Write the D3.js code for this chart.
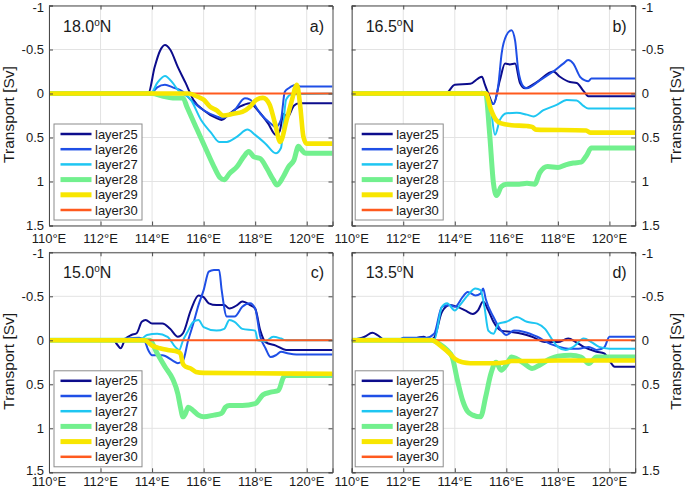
<!DOCTYPE html>
<html><head><meta charset="utf-8">
<script src="https://cdn.jsdelivr.net/npm/d3@7"></script>
<style>
html,body{margin:0;padding:0;background:#fff;}
svg{display:block;font-family:"Liberation Sans",Arial,sans-serif;}
</style></head>
<body>
<svg id="chart" width="685" height="491"></svg>
<script>
// ---------- data ----------
const layerNames = ["layer25","layer26","layer27","layer28","layer29","layer30"];
const xTickValues = [110,112,114,116,118,120];
const xTickLabels = ["110°E","112°E","114°E","116°E","118°E","120°E"];
const yTickValues = [-1,-0.5,0,0.5,1,1.5];
const yTickLabels = ["-1","-0.5","0","0.5","1","1.5"];
const panelLats = ["18.0","16.5","15.0","13.5"];
const panelTags = ["a)","b)","c)","d)"];

// panel a (18.0N)
const a25 = [[110,0],[113.85,0],[114.1,-0.3],[114.3,-0.48],[114.5,-0.55],[114.7,-0.5],[115,-0.3],[115.3,-0.12],[115.6,0.07],[116,0.19],[116.5,0.28],[116.7,0.3],[117,0.23],[117.4,0.15],[117.8,0.11],[118.1,0.19],[118.5,0.34],[118.8,0.47],[118.95,0.43],[119.1,0.23],[119.25,0.27],[119.5,0.14],[119.7,0.11],[121,0.11]];
const a26 = [[110,0],[113.95,0],[114.2,-0.07],[114.5,-0.1],[114.8,-0.07],[115.2,-0.02],[115.5,0.07],[116,0.19],[116.5,0.26],[116.7,0.28],[117.2,0.19],[117.6,0.055],[117.8,0.07],[118.2,0.23],[118.6,0.34],[118.8,0.38],[119.0,0.3],[119.15,-0.02],[119.3,-0.06],[119.6,-0.1],[119.75,-0.08],[121,-0.08]];
const a27 = [[110,0],[113.95,0],[114.2,-0.12],[114.5,-0.2],[114.8,-0.12],[115,-0.04],[115.5,0.07],[115.9,0.3],[116.3,0.45],[116.6,0.55],[116.9,0.55],[117.3,0.49],[117.7,0.41],[118,0.47],[118.4,0.57],[118.8,0.68],[119,0.62],[119.2,0.07],[119.4,0.01],[121,0]];
const a28 = [[110,0],[114,0],[114.4,0.03],[114.8,0.05],[115.2,0.05],[115.35,0.15],[115.7,0.38],[116.1,0.64],[116.4,0.83],[116.65,0.96],[116.8,0.98],[117,0.91],[117.3,0.83],[117.55,0.72],[117.75,0.66],[117.95,0.72],[118.2,0.74],[118.45,0.85],[118.7,0.98],[118.85,1.04],[119.1,0.94],[119.3,0.83],[119.5,0.76],[119.68,0.6],[119.8,0.64],[119.95,0.68],[121,0.68]];
const a29 = [[110,0],[115.4,0],[115.8,0.04],[116.0,0.07],[116.25,0.15],[116.5,0.19],[116.77,0.25],[117.15,0.23],[117.5,0.21],[117.8,0.15],[118.05,0.07],[118.3,0.05],[118.55,0.12],[118.77,0.34],[118.97,0.55],[119.22,0.3],[119.42,0.08],[119.62,-0.1],[119.75,0.15],[119.87,0.49],[120,0.57],[121,0.57]];
const a30 = [[110,0],[121,0]];

// panel b (16.5N)
const b25 = [[110,0],[113.65,0],[114,-0.1],[114.6,-0.11],[114.9,-0.17],[115.05,-0.19],[115.17,-0.1],[115.3,0],[115.5,0.12],[115.75,-0.15],[115.95,-0.34],[116.14,-0.33],[116.34,-0.34],[116.53,-0.12],[116.73,-0.06],[117.18,-0.13],[117.82,-0.25],[118.08,-0.19],[118.47,-0.13],[118.73,-0.12],[118.99,-0.03],[119.18,0.03],[121,0.03]];
const b26 = [[110,0],[114.9,0],[115.05,-0.02],[115.2,0],[115.5,0.12],[115.69,-0.1],[115.82,-0.46],[116,-0.66],[116.2,-0.72],[116.34,-0.6],[116.46,-0.27],[116.66,-0.08],[116.79,-0.06],[117.3,-0.15],[117.82,-0.25],[118.21,-0.34],[118.4,-0.38],[118.6,-0.34],[118.86,-0.19],[119.05,-0.15],[119.18,-0.14],[119.3,-0.17],[121,-0.17]];
const b27 = [[110,0],[115.2,0],[115.37,0.11],[115.56,0.47],[115.75,0.3],[116.01,0.225],[116.4,0.22],[116.79,0.24],[117.05,0.26],[117.44,0.19],[117.95,0.13],[118.34,0.075],[118.73,0.08],[118.99,0.14],[119.18,0.17],[121,0.17]];
const b28 = [[110,0],[115.2,0],[115.35,0.45],[115.5,1.02],[115.62,1.16],[115.8,1.06],[116,1.03],[116.5,1.03],[116.8,1.02],[117.1,1.03],[117.3,0.9],[117.6,0.83],[118,0.84],[118.3,0.81],[118.6,0.79],[118.9,0.78],[119.1,0.71],[119.3,0.62],[121,0.62]];
const b29 = [[110,0],[115.2,0],[115.4,0.18],[115.6,0.3],[115.8,0.34],[116.2,0.36],[116.8,0.37],[117.0,0.38],[117.15,0.41],[119.1,0.42],[119.25,0.445],[121,0.445]];
const b30 = [[110,0],[121,0]];

// panel c (15.0N)
const c25 = [[110,0],[112.5,0],[112.65,0.05],[112.78,0.09],[112.95,-0.01],[113.2,-0.06],[113.4,-0.08],[113.6,-0.21],[113.75,-0.23],[114,-0.19],[114.4,-0.19],[114.7,-0.13],[115,-0.04],[115.2,-0.08],[115.5,-0.34],[115.8,-0.51],[116,-0.49],[116.2,-0.42],[116.5,-0.4],[116.8,-0.4],[117,-0.36],[117.3,-0.4],[117.5,-0.44],[117.8,-0.4],[118,-0.36],[118.2,-0.11],[118.4,0.02],[118.8,0.06],[119.2,0.11],[121,0.11]];
const c26 = [[110,0],[112.6,0],[113,-0.02],[113.5,-0.03],[113.7,0],[113.85,0.11],[114,0.17],[114.4,0.17],[114.8,0.23],[115,0.26],[115.2,0.23],[115.4,0],[115.6,-0.19],[115.8,-0.4],[116,-0.57],[116.2,-0.78],[116.4,-0.8],[116.6,-0.8],[116.7,-0.57],[116.9,-0.27],[117.2,-0.27],[117.5,-0.38],[117.8,-0.42],[118,-0.36],[118.2,-0.04],[118.4,0.09],[118.6,0.19],[118.8,0.17],[119,0.13],[119.3,0.15],[119.6,0.16],[121,0.16]];
const c27 = [[110,0],[113.5,0],[113.8,-0.06],[114.2,-0.075],[114.6,-0.04],[114.9,0.075],[115.05,0.11],[115.2,0],[115.4,-0.11],[115.6,-0.21],[115.8,-0.23],[116,-0.15],[116.5,-0.11],[116.8,-0.13],[117,-0.23],[117.2,-0.21],[117.5,-0.13],[118,-0.11],[118.1,0],[118.4,0.01],[118.7,-0.04],[119,-0.02],[119.2,0],[121,0]];
const c28 = [[110,0],[113.9,0],[114.2,0.15],[114.5,0.3],[114.8,0.44],[115,0.61],[115.1,0.76],[115.2,0.87],[115.3,0.83],[115.4,0.76],[115.6,0.8],[115.8,0.85],[116,0.87],[116.4,0.85],[116.7,0.83],[116.85,0.76],[117,0.74],[117.5,0.74],[118,0.72],[118.3,0.62],[118.6,0.59],[118.9,0.57],[119.1,0.42],[119.2,0.4],[121,0.4]];
const c29 = [[110,0],[113.7,0],[114,0.06],[114.3,0.09],[114.6,0.11],[115,0.13],[115.1,0.15],[115.2,0.27],[115.3,0.3],[115.5,0.32],[115.7,0.36],[116,0.37],[121,0.38]];
const c30 = [[110,0],[121,0]];

// panel d (13.5N)
const d25 = [[110,0],[110.5,-0.04],[110.8,-0.085],[111,-0.06],[111.3,0],[112,0.01],[112.8,-0.04],[113,0],[113.2,-0.03],[113.5,-0.32],[113.8,-0.4],[114.1,-0.38],[114.4,-0.34],[114.7,-0.3],[114.9,-0.34],[115.1,-0.44],[115.3,-0.34],[115.5,-0.21],[115.8,-0.11],[116.2,-0.095],[116.6,-0.075],[117,-0.04],[117.5,0.02],[118,0.02],[118.4,-0.02],[118.7,0.02],[119,0.075],[119.5,0.13],[119.8,0.15],[120,0.23],[120.2,0.3],[121,0.3]];
const d26 = [[110,0],[111.8,0],[112,-0.03],[112.9,-0.03],[113.2,-0.075],[113.5,-0.38],[113.8,-0.4],[114,-0.38],[114.3,-0.49],[114.5,-0.55],[114.8,-0.51],[115,-0.53],[115.1,-0.59],[115.2,-0.47],[115.5,-0.265],[115.8,-0.11],[116,-0.06],[116.3,-0.11],[116.7,-0.095],[117.2,-0.04],[117.7,0.04],[118,0.07],[118.4,0.095],[118.8,0.095],[119.2,0.075],[119.5,0.11],[119.8,0.08],[120,-0.04],[121,-0.04]];
const d27 = [[110,0],[113.2,0],[113.5,-0.38],[113.7,-0.42],[114,-0.34],[114.2,-0.4],[114.5,-0.51],[114.8,-0.59],[115,-0.57],[115.15,-0.38],[115.3,-0.11],[115.5,-0.075],[115.7,-0.19],[116,-0.21],[116.4,-0.265],[116.8,-0.21],[117.2,-0.19],[117.5,-0.13],[117.8,0],[118,0.075],[118.3,0.11],[118.6,0.075],[119,-0.02],[119.3,0.02],[119.6,0.075],[120,0.095],[121,0.095]];
const d28 = [[110,0],[113.1,0],[113.4,0.04],[113.7,0.11],[113.9,0.19],[114.1,0.45],[114.3,0.68],[114.5,0.81],[114.7,0.85],[115,0.87],[115.2,0.64],[115.4,0.38],[115.6,0.25],[115.8,0.34],[116,0.28],[116.2,0.19],[116.4,0.21],[116.7,0.265],[117,0.32],[117.3,0.28],[117.7,0.21],[118,0.18],[118.5,0.17],[118.9,0.19],[119.2,0.265],[119.5,0.19],[121,0.19]];
const d29 = [[110,0],[113.1,0],[113.5,0.075],[113.8,0.15],[114,0.21],[114.3,0.25],[114.6,0.26],[115.5,0.26],[116,0.25],[116.2,0.235],[117,0.235],[118,0.23],[121,0.23]];
const d30 = [[110,0],[121,0]];

// ---------- styles / layout ----------
const layerColors = ["#0c0c8c","#1f4fe6","#1ec6f2","#72f08e","#f8e600","#ff5a1e"];
const layerWidths = [2,2,2,5,4.6,2];
const drawOrder = [0,1,2,3,5,4];

const PW = 283.5, PH = 220;
const layout = [
  {left:49,    top:5.5,   side:"left",  xlabBase:243, bottomNudge:0},
  {left:351.7, top:5.5,   side:"right", xlabBase:243, bottomNudge:0},
  {left:49,    top:252.3, side:"left",  xlabBase:486, bottomNudge:-2},
  {left:351.7, top:252.3, side:"right", xlabBase:486, bottomNudge:-2}
];
const panelSeries = [
  [a25,a26,a27,a28,a29,a30],
  [b25,b26,b27,b28,b29,b30],
  [c25,c26,c27,c28,c29,c30],
  [d25,d26,d27,d28,d29,d30]
];

const svg = d3.select("#chart");
const textColor = "#1a1a1a";
const frameColor = "#4a4a4a";
const gridColor = "#e3e3e3";

layout.forEach((L, i) => {
  const x = d3.scaleLinear().domain([110,121]).range([0,PW]);
  const y = d3.scaleLinear().domain([-1,1.5]).range([0,PH]);
  const g = svg.append("g").attr("transform",`translate(${L.left},${L.top})`);

  // grid
  g.selectAll(".gx").data(xTickValues).join("line")
    .attr("x1",d=>x(d)).attr("x2",d=>x(d)).attr("y1",0).attr("y2",PH)
    .attr("stroke",gridColor).attr("stroke-width",1);
  g.selectAll(".gy").data(yTickValues).join("line")
    .attr("x1",0).attr("x2",PW).attr("y1",d=>y(d)).attr("y2",d=>y(d))
    .attr("stroke",gridColor).attr("stroke-width",1);

  // clip
  const cid = "clip"+i;
  svg.append("clipPath").attr("id",cid).append("rect").attr("x",0).attr("y",0).attr("width",PW).attr("height",PH);
  const lines = g.append("g").attr("clip-path",`url(#${cid})`);
  const lineGen = d3.line().x(d=>x(d[0])).y(d=>y(d[1])).curve(d3.curveMonotoneX);
  drawOrder.forEach(k => {
    lines.append("path").datum(panelSeries[i][k])
      .attr("d",lineGen).attr("fill","none")
      .attr("stroke",layerColors[k]).attr("stroke-width",layerWidths[k])
      .attr("stroke-linejoin","round").attr("stroke-linecap","butt");
  });

  // axes with inward ticks (all four sides)
  const tl = 4;
  const xb = d3.axisBottom(x).tickValues(xTickValues).tickSize(-tl).tickFormat("");
  const xt = d3.axisTop(x).tickValues(xTickValues).tickSize(-tl).tickFormat("");
  const yl = d3.axisLeft(y).tickValues(yTickValues).tickSize(-tl).tickFormat("");
  const yr = d3.axisRight(y).tickValues(yTickValues).tickSize(-tl).tickFormat("");
  [[xb,`translate(0,${PH})`],[xt,"translate(0,0)"],[yl,"translate(0,0)"],[yr,`translate(${PW},0)`]].forEach(([ax,tr])=>{
    const a = g.append("g").attr("transform",tr).call(ax);
    a.select(".domain").attr("stroke",frameColor).attr("stroke-width",1);
    a.selectAll(".tick line").attr("stroke",frameColor);
  });

  // x tick labels
  svg.append("g").selectAll("text").data(xTickValues).join("text")
    .attr("x",d=>L.left + x(d)).attr("y",L.xlabBase)
    .attr("text-anchor","middle").attr("font-size",13).attr("fill",textColor)
    .text((d,j)=>xTickLabels[j]);

  // y tick labels
  const right = L.side === "right";
  g.append("g").selectAll("text").data(yTickValues).join("text")
    .attr("x", right ? PW + 6.5 : -5)
    .attr("y", d=>y(d) + (d === -1 ? 1.5 : 0) + (d === 1.5 ? L.bottomNudge : 0)).attr("dy","0.36em")
    .attr("text-anchor", right ? "start" : "end")
    .attr("font-size",13).attr("fill",textColor)
    .text((d,j)=>yTickLabels[j]);

  // y axis label
  const lx = right ? 681 : 13.5;
  svg.append("text")
    .attr("transform",`translate(${lx},${L.top+109}) rotate(-90)`)
    .attr("text-anchor","middle").attr("font-size",15.5).attr("fill",textColor)
    .text("Transport [Sv]");

  // panel title
  const t = g.append("text").attr("x",14).attr("y",26).attr("font-size",16).attr("fill",textColor);
  t.append("tspan").text(panelLats[i]);
  t.append("tspan").attr("font-size",10).attr("dy",-6).text("o");
  t.append("tspan").attr("dy",6).text("N");
  g.append("text").attr("x",PW-8.5).attr("y",26).attr("text-anchor","end")
    .attr("font-size",16).attr("fill",textColor).text(panelTags[i]);

  // legend
  const lg = g.append("g").attr("transform",`translate(${right?3.5:5},118.5)`);
  lg.append("rect").attr("x",0).attr("y",0).attr("width",88).attr("height",96)
    .attr("fill","#fff").attr("stroke","#8c8c8c").attr("stroke-width",1);
  layerNames.forEach((nm,k)=>{
    const yy = 10 + k*15.2;
    lg.append("line").attr("x1",6.5).attr("x2",37.5).attr("y1",yy).attr("y2",yy)
      .attr("stroke",layerColors[k]).attr("stroke-width",k===3||k===4?5:2.5);
    lg.append("text").attr("x",41).attr("y",yy).attr("dy","0.36em")
      .attr("font-size",13).attr("fill",textColor).text(nm);
  });
});
</script>
</body></html>
